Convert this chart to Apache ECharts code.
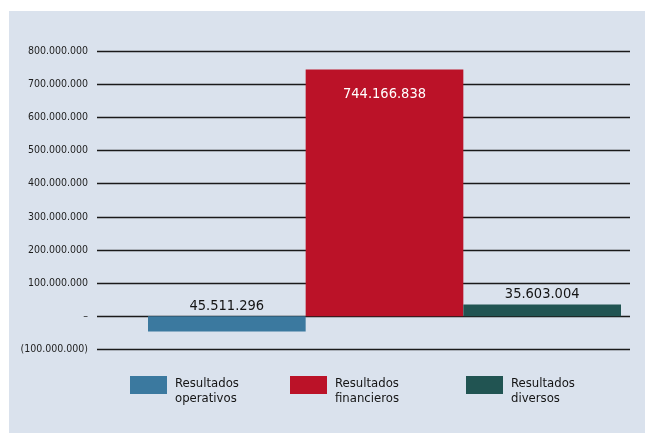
<!DOCTYPE html>
<html>
<head>
<meta charset="utf-8">
<script src="https://cdn.jsdelivr.net/npm/echarts@6/dist/echarts.min.js"></script>
<style>
html,body{margin:0;padding:0;background:#ffffff;}
#bg{position:absolute;left:9px;top:11px;width:636px;height:422px;background:#dae2ed;}
#chart{position:absolute;left:0;top:0;width:645px;height:433px;}
</style>
</head>
<body>
<div id="bg"></div>
<div id="chart"></div>
<script>
const categories = ['Resultados\noperativos', 'Resultados\nfinancieros', 'Resultados\ndiversos'];
const values = [-45511296, 744166838, 35603004];
const yMin = -100000000, yMax = 800000000, yStep = 100000000;

const FONT = "'Liberation Sans Narrow', 'DejaVu Sans Condensed', 'Noto Sans', sans-serif";
const colors = ['#3b799f', '#bb1228', '#215452'];
const legendLeft = [130, 290, 466];

function fmt(v) {
  return Math.abs(v).toString().replace(/\B(?=(\d{3})+(?!\d))/g, '.');
}

const chart = echarts.init(document.getElementById('chart'));

const series = categories.map((name, i) => ({
  name: name,
  type: 'bar',
  xAxisIndex: 1,
  yAxisIndex: 1,
  barGap: '0%',
  barCategoryGap: '0%',
  itemStyle: { color: colors[i] },
  data: [values[i]],
  label: {
    show: true,
    position: i === 1 ? 'insideTop' : 'top',
    distance: i === 1 ? 17 : 3,
    color: i === 1 ? '#ffffff' : '#141414',
    fontFamily: FONT,
    fontSize: 14.5,
    formatter: p => fmt(p.value)
  }
}));

chart.setOption({
  backgroundColor: 'transparent',
  animation: false,
  grid: [
    { left: 97, right: 15, top: 51, bottom: 83.5 },
    { left: 148, right: 24, top: 51, bottom: 83.5 }
  ],
  xAxis: [
    { type: 'category', gridIndex: 0, data: [''], show: false },
    { type: 'category', gridIndex: 1, data: [''], show: false }
  ],
  yAxis: [
    {
      type: 'value', gridIndex: 0, min: yMin, max: yMax, interval: yStep,
      axisLine: { show: false }, axisTick: { show: false },
      splitLine: { lineStyle: { color: '#1a1a1a', width: 1.3 } },
      axisLabel: {
        margin: 9, color: '#1e1e1e', fontFamily: FONT, fontSize: 10.5,
        formatter: v => v === 0 ? '–' : (v < 0 ? '(' + fmt(v) + ')' : fmt(v))
      }
    },
    {
      type: 'value', gridIndex: 1, min: yMin, max: yMax, interval: yStep,
      show: false, splitLine: { show: false }
    }
  ],
  legend: categories.map((name, i) => ({
    data: [{ name: name, icon: 'path://M0,0L37,0L37,18L0,18ZM0,30L37,30' }],
    left: legendLeft[i],
    top: 376,
    padding: 0,
    itemWidth: 37,
    itemHeight: 30,
    selectedMode: false,
    textStyle: {
      fontFamily: FONT, fontSize: 13, lineHeight: 15, color: '#141414',
      padding: [0, 0, 0, 3]
    }
  })),
  series: series
});
</script>
</body>
</html>
